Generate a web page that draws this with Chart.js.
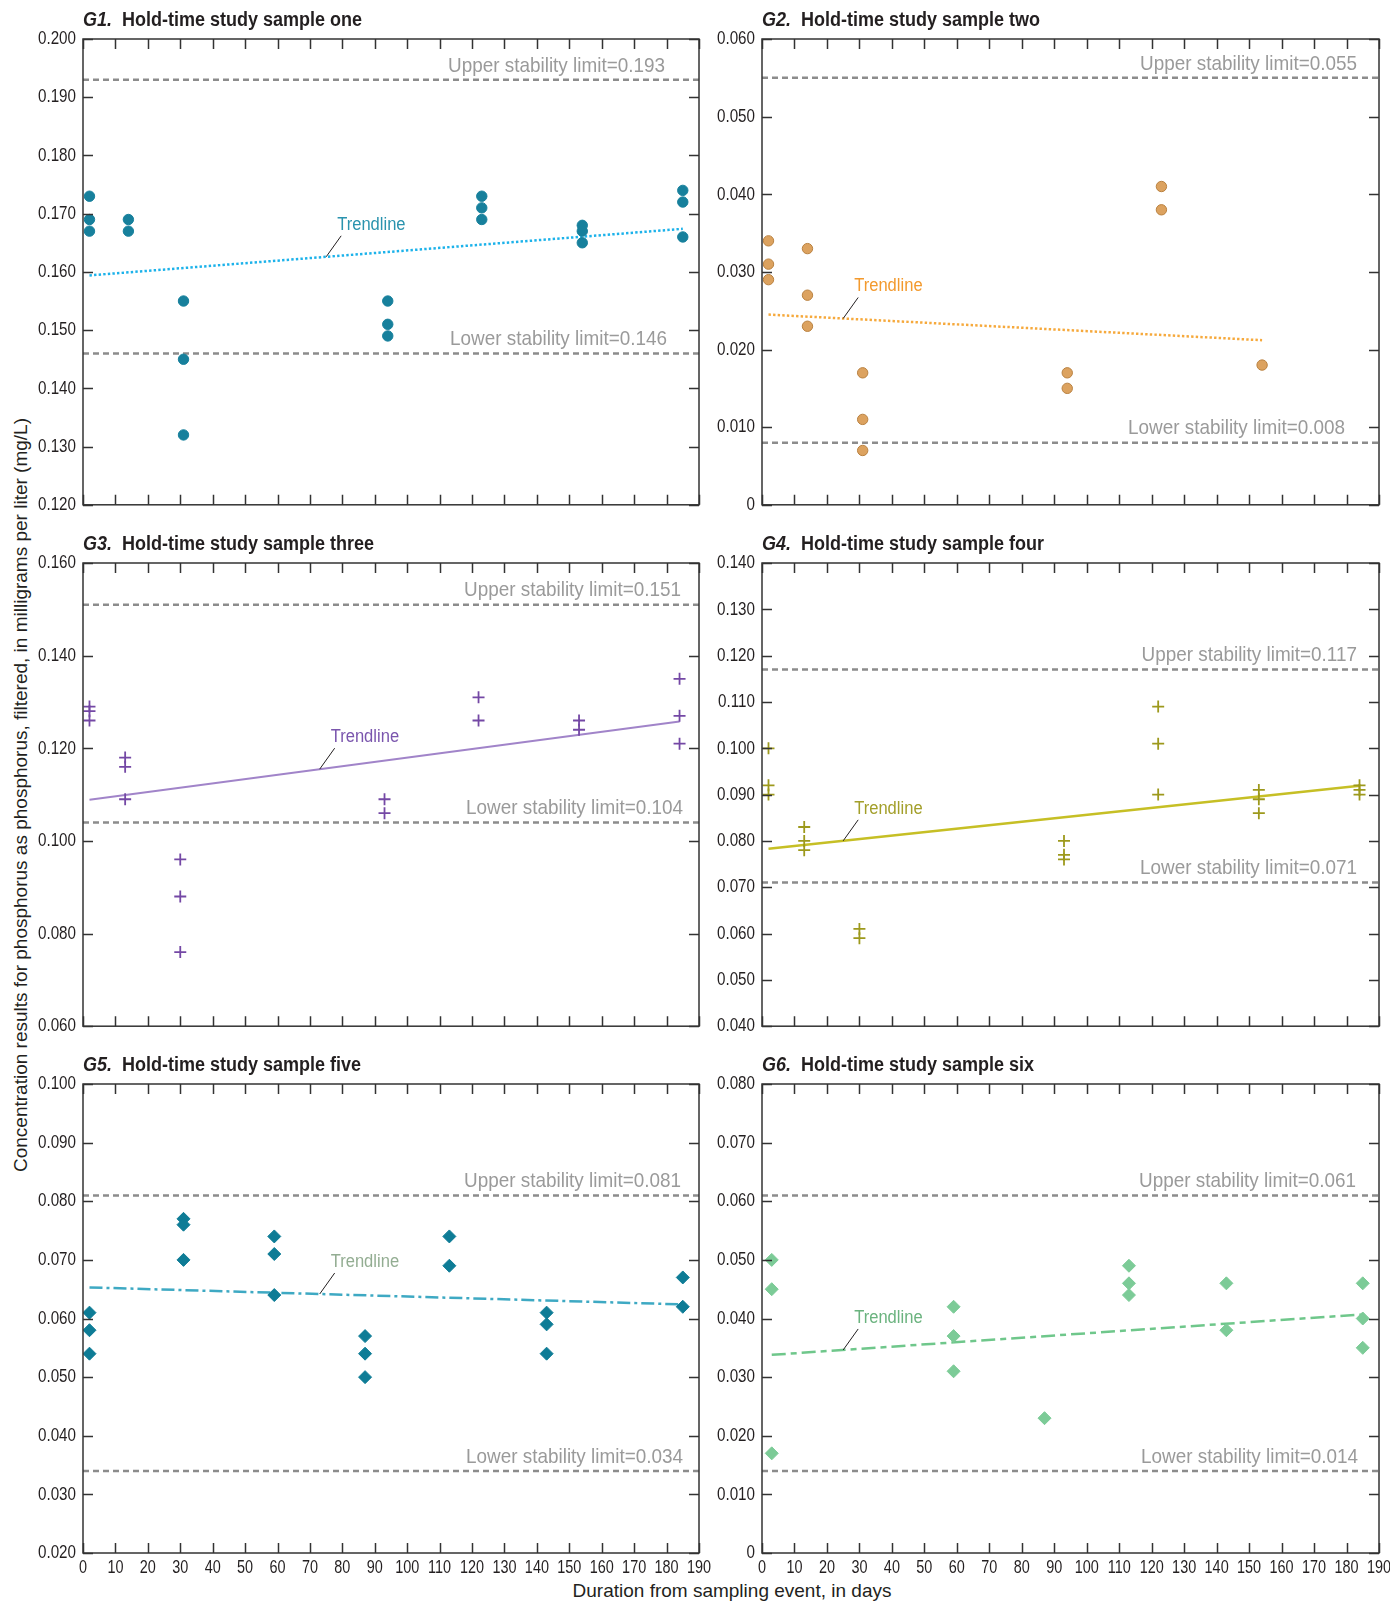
<!DOCTYPE html>
<html>
<head>
<meta charset="utf-8">
<script src="https://cdn.jsdelivr.net/npm/chart.js@4.4.1/dist/chart.umd.min.js"></script>
<style>
  body { margin:0; background:#fff; width:1390px; height:1603px; position:relative; overflow:hidden; }
  canvas { position:absolute; }
  .ptitle { position:absolute; font-family:'Liberation Sans',Arial,sans-serif; font-weight:bold; font-size:20px; color:#231f20; white-space:pre; line-height:20px; transform:scaleX(0.9); transform-origin:0 50%; }
  .ptitle i { font-style:italic; }
  .ytitle { position:absolute; left:21px; top:795px; transform:translate(-50%,-50%) rotate(-90deg); font-family:'Liberation Sans',Arial,sans-serif; font-size:19px; color:#231f20; white-space:nowrap; }
  .xtitle { position:absolute; left:732px; top:1591px; transform:translate(-50%,-50%); font-family:'Liberation Sans',Arial,sans-serif; font-size:19px; color:#231f20; white-space:nowrap; }
</style>
</head>
<body>
<div class="ytitle">Concentration results for phosphorus as phosphorus, filtered, in milligrams per liter (mg/L)</div>
<div class="xtitle">Duration from sampling event, in days</div>
<script>
// ===== HOLD-TIME STUDY — FILTERED PHOSPHORUS =====

const TITLES = ['one', 'two', 'three', 'four', 'five', 'six'];
const X_TICKS = [0,10,20,30,40,50,60,70,80,90,100,110,120,130,140,150,160,170,180,190];

const Y_MIN  = [0.120, 0,     0.060, 0.040, 0.020, 0];
const Y_MAX  = [0.200, 0.060, 0.160, 0.140, 0.100, 0.080];
const Y_STEP = [0.010, 0.010, 0.020, 0.010, 0.010, 0.010];

const UPPER_LIMITS = [0.193, 0.055, 0.151, 0.117, 0.081, 0.061];
const LOWER_LIMITS = [0.146, 0.008, 0.104, 0.071, 0.034, 0.014];

const DAYS_G1 = [2,2,2,14,14,31,31,31,94,94,94,123,123,123,154,154,154,185,185,185];
const CONC_G1 = [0.173,0.169,0.167,0.169,0.167,0.155,0.145,0.132,0.155,0.151,0.149,0.173,0.171,0.169,0.168,0.167,0.165,0.174,0.172,0.166];

const DAYS_G2 = [2,2,2,14,14,14,31,31,31,94,94,123,123,154];
const CONC_G2 = [0.034,0.031,0.029,0.033,0.027,0.023,0.017,0.011,0.007,0.017,0.015,0.041,0.038,0.018];

const DAYS_G3 = [2,2,2,13,13,13,30,30,30,93,93,122,122,153,153,184,184,184];
const CONC_G3 = [0.129,0.128,0.126,0.118,0.116,0.109,0.096,0.088,0.076,0.109,0.106,0.131,0.126,0.126,0.124,0.135,0.127,0.121];

const DAYS_G4 = [2,2,2,13,13,13,30,30,93,93,93,122,122,122,153,153,153,184,184,184];
const CONC_G4 = [0.100,0.092,0.090,0.083,0.080,0.078,0.061,0.059,0.080,0.077,0.076,0.109,0.101,0.090,0.091,0.089,0.086,0.092,0.091,0.090];

const DAYS_G5 = [2,2,2,31,31,31,59,59,59,87,87,87,113,113,143,143,143,185,185];
const CONC_G5 = [0.061,0.058,0.054,0.077,0.076,0.070,0.074,0.071,0.064,0.057,0.054,0.050,0.074,0.069,0.061,0.059,0.054,0.067,0.062];

const DAYS_G6 = [3,3,3,59,59,59,87,113,113,113,143,143,185,185,185];
const CONC_G6 = [0.050,0.045,0.017,0.042,0.037,0.031,0.023,0.049,0.046,0.044,0.046,0.038,0.046,0.040,0.035];

const DAYS = [DAYS_G1, DAYS_G2, DAYS_G3, DAYS_G4, DAYS_G5, DAYS_G6];
const CONC = [CONC_G1, CONC_G2, CONC_G3, CONC_G4, CONC_G5, CONC_G6];

// trendline end points
const TREND_DAYS = [[2,185],[2,154],[2,184],[2,184],[2,185],[3,185]];
const TREND_CONC = [[0.1594,0.1674],[0.0245,0.0212],[0.1089,0.1258],[0.0783,0.0919],[0.0653,0.0624],[0.0338,0.0407]];

// layout + look of each panel
const PANELS = [
  { left:83,  top:39,   w:616, h:468, marker:'circle',  r:5.2, fill:'#17809c', edge:'#17809c', trend:'#1cb2ea', tw:2.5, dash:[2.4,2.2], label:'#2a93ae', at:75, up:[34,32] },
  { left:762, top:39,   w:617, h:468, marker:'circle',  r:5.2, fill:'#dca25f', edge:'#b98140', trend:'#f6a93c', tw:2.5, dash:[2.4,2.2], label:'#f39a2e', at:25, up:[22,34] },
  { left:83,  top:563,  w:616, h:467, marker:'cross',   r:6,   fill:'#7448a5', edge:'#7448a5', trend:'#a184c9', tw:2,   dash:[],        label:'#7a55ad', at:73, up:[18,16] },
  { left:762, top:563,  w:617, h:467, marker:'cross',   r:6,   fill:'#9d991c', edge:'#9d991c', trend:'#c6bf25', tw:2.5, dash:[],        label:'#a39f2a', at:25, up:[22,22] },
  { left:83,  top:1084, w:616, h:469, marker:'rectRot', r:6.5, fill:'#0e7c96', edge:'#0e7c96', trend:'#3ea9c3', tw:2.5, dash:[13,4,3,4], label:'#93ad92', at:73, up:[18,16] },
  { left:762, top:1084, w:617, h:469, marker:'rectRot', r:6.5, fill:'#7ccb97', edge:'#7ccb97', trend:'#6fc78b', tw:2.5, dash:[14,5,6,5], label:'#6bb37f', at:25, up:[23,21] },
];

const SANS = "'Liberation Sans',Arial,sans-serif";
const PAD_L = 70, PAD_T = 12, PAD_R = 14;

// narrow text: the figure uses a condensed face, so squeeze a regular one
function narrowText(ctx, txt, x, y, align, sx) {
  ctx.save();
  ctx.translate(x, y);
  ctx.scale(sx, 1);
  ctx.textAlign = align;
  ctx.fillText(txt, 0, 0);
  ctx.restore();
}

const framePlugin = {
  id: 'frame',
  afterDatasetsDraw(chart, args, opts) {
    const { ctx, chartArea: a, scales: { x, y } } = chart;
    const p = opts.panel, i = opts.index;
    ctx.save();
    ctx.textBaseline = 'middle';

    // stability limit labels
    ctx.font = '21px ' + SANS;
    ctx.fillStyle = '#9a9a9a';
    narrowText(ctx, 'Upper stability limit=' + UPPER_LIMITS[i].toFixed(3), a.right - p.up[0], y.getPixelForValue(UPPER_LIMITS[i]) - 14, 'right', 0.9);
    narrowText(ctx, 'Lower stability limit=' + LOWER_LIMITS[i].toFixed(3), a.right - p.up[1], y.getPixelForValue(LOWER_LIMITS[i]) - 14, 'right', 0.9);

    // trendline label with leader
    const d0 = TREND_DAYS[i][0], d1 = TREND_DAYS[i][1];
    const c0 = TREND_CONC[i][0], c1 = TREND_CONC[i][1];
    const cAt = c0 + (c1 - c0) * (p.at - d0) / (d1 - d0);
    const lx = x.getPixelForValue(p.at), ly = y.getPixelForValue(cAt);
    ctx.strokeStyle = '#231f20'; ctx.lineWidth = 1;
    ctx.beginPath(); ctx.moveTo(lx, ly); ctx.lineTo(lx + 15, ly - 21); ctx.stroke();
    ctx.font = '18px ' + SANS;
    ctx.fillStyle = p.label;
    narrowText(ctx, 'Trendline', lx + 11, ly - 32, 'left', 0.92);

    // frame and inward ticks
    ctx.strokeStyle = '#333'; ctx.lineWidth = 1.5;
    ctx.beginPath();
    x.ticks.forEach(t => {
      const px = Math.round(x.getPixelForValue(t.value)) + 0.5;
      ctx.moveTo(px, a.top); ctx.lineTo(px, a.top + 10);
      ctx.moveTo(px, a.bottom); ctx.lineTo(px, a.bottom - 10);
    });
    y.ticks.forEach(t => {
      const py = Math.round(y.getPixelForValue(t.value)) + 0.5;
      ctx.moveTo(a.left, py); ctx.lineTo(a.left + 10, py);
      ctx.moveTo(a.right, py); ctx.lineTo(a.right - 10, py);
    });
    ctx.stroke();
    ctx.strokeRect(a.left, a.top, a.right - a.left, a.bottom - a.top);

    // tick labels
    ctx.font = '19px ' + SANS;
    ctx.fillStyle = '#231f20';
    y.ticks.forEach(t => {
      const txt = t.value === 0 ? '0' : t.value.toFixed(3);
      narrowText(ctx, txt, a.left - 7, y.getPixelForValue(t.value), 'right', 0.8);
    });
    if (opts.xLabels) {
      x.ticks.forEach(t => {
        narrowText(ctx, String(t.value), x.getPixelForValue(t.value), a.bottom + 15, 'center', 0.76);
      });
    }
    ctx.restore();
  }
};

function makePanel(p, i) {
  const bottomRow = i >= 4;
  const xh = bottomRow ? 45 : 4;
  const cv = document.createElement('canvas');
  cv.width = p.w + PAD_L + PAD_R;
  cv.height = p.h + PAD_T + xh;
  cv.style.left = (p.left - PAD_L) + 'px';
  cv.style.top = (p.top - PAD_T) + 'px';
  document.body.appendChild(cv);

  const t = document.createElement('div');
  t.className = 'ptitle';
  t.innerHTML = '<i>G' + (i + 1) + '.</i>  Hold-time study sample ' + TITLES[i];
  t.style.left = p.left + 'px';
  t.style.top = (p.top - 30) + 'px';
  document.body.appendChild(t);

  const pts = DAYS[i].map((d, k) => ({ x: d, y: CONC[i][k] }));
  const limitLine = v => ({
    type: 'line', data: [{ x: 0, y: v }, { x: 190, y: v }],
    borderColor: '#8c8c8c', borderWidth: 2.5, borderDash: [6, 4], pointRadius: 0, order: 3
  });

  new Chart(cv, {
    type: 'scatter',
    data: {
      datasets: [
        {
          data: pts, pointStyle: p.marker, pointRadius: p.r,
          backgroundColor: p.fill, borderColor: p.edge,
          pointBorderWidth: p.marker === 'cross' ? 1.8 : 1, order: 1
        },
        {
          type: 'line',
          data: TREND_DAYS[i].map((d, k) => ({ x: d, y: TREND_CONC[i][k] })),
          borderColor: p.trend, borderWidth: p.tw, borderDash: p.dash, pointRadius: 0, order: 2
        },
        limitLine(UPPER_LIMITS[i]),
        limitLine(LOWER_LIMITS[i])
      ]
    },
    options: {
      responsive: false, animation: false, events: [],
      layout: { padding: { top: PAD_T, right: PAD_R, left: 0, bottom: 0 } },
      plugins: { legend: { display: false }, tooltip: { enabled: false },
                 frame: { panel: p, index: i, xLabels: bottomRow } },
      scales: {
        x: {
          type: 'linear', min: 0, max: 190,
          afterBuildTicks: s => { s.ticks = X_TICKS.map(v => ({ value: v })); },
          afterFit: s => { s.height = xh; },
          grid: { display: false, drawTicks: false },
          border: { display: false },
          ticks: { display: false }
        },
        y: {
          min: Y_MIN[i], max: Y_MAX[i],
          afterBuildTicks: s => {
            const out = [];
            const n = Math.round((Y_MAX[i] - Y_MIN[i]) / Y_STEP[i]);
            for (let k = 0; k <= n; k++) out.push({ value: +(Y_MIN[i] + k * Y_STEP[i]).toFixed(3) });
            s.ticks = out;
          },
          afterFit: s => { s.width = PAD_L; },
          grid: { display: false, drawTicks: false },
          border: { display: false },
          ticks: { display: false }
        }
      }
    },
    plugins: [framePlugin]
  });
}

PANELS.forEach(makePanel);
</script>
</body>
</html>
